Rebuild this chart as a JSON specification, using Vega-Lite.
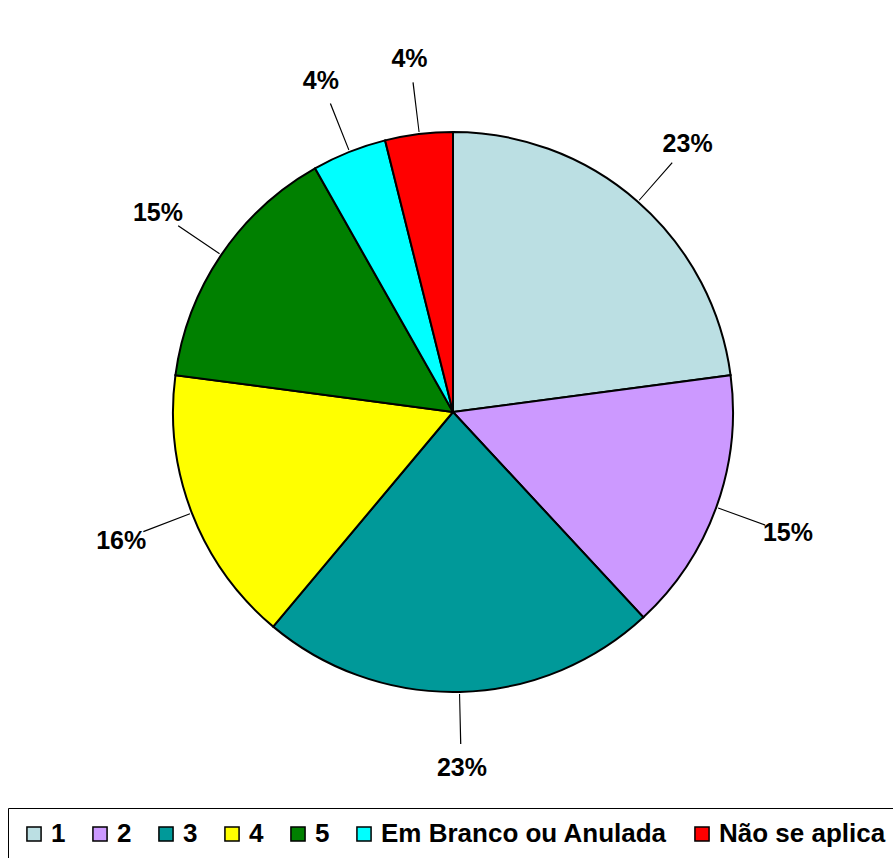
{
  "$schema": "https://vega.github.io/schema/vega-lite/v6.json",
  "width": 906,
  "height": 824,
  "autosize": "none",
  "padding": {"left": 0, "top": 0, "right": 0, "bottom": 34},
  "background": "white",
  "config": {"view": {"stroke": null}},
  "data": {"values": [
    {"category": "1", "value": 22.9, "label": "23%", "ord": 1},
    {"category": "2", "value": 15.2, "label": "15%", "ord": 2},
    {"category": "3", "value": 23.0, "label": "23%", "ord": 3},
    {"category": "4", "value": 16.0, "label": "16%", "ord": 4},
    {"category": "5", "value": 14.7, "label": "15%", "ord": 5},
    {"category": "Em Branco ou Anulada", "value": 4.3, "label": "4%", "ord": 6},
    {"category": "Não se aplica", "value": 3.9, "label": "4%", "ord": 7}
  ]},
  "transform": [
    {"window": [{"op": "sum", "field": "value", "as": "cum"}], "sort": [{"field": "ord"}], "frame": [null, 0]},
    {"calculate": "datum.cum - datum.value", "as": "start"},
    {"calculate": "datum.cum - datum.value / 2", "as": "mid"},
    {"calculate": "datum.mid + 0.06", "as": "mid2"}
  ],
  "layer": [
    {
      "mark": {"type": "arc", "radius": 280, "stroke": "black", "strokeWidth": 2},
      "encoding": {
        "theta": {"field": "start", "type": "quantitative", "stack": null, "scale": {"domain": [0, 100]}},
        "theta2": {"field": "cum"},
        "color": {
          "field": "category",
          "type": "nominal",
          "scale": {
            "domain": ["1", "2", "3", "4", "5", "Em Branco ou Anulada", "Não se aplica"],
            "range": ["#BBDFE3", "#CC99FF", "#009999", "#FFFF00", "#008000", "#00FFFF", "#FF0000"]
          },
          "legend": {
            "title": null,
            "orient": "none",
            "legendX": 8,
            "legendY": 808,
            "direction": "horizontal",
            "columns": 7,
            "symbolType": "square",
            "symbolSize": 200,
            "symbolStrokeColor": "black",
            "symbolStrokeWidth": 1.5,
            "symbolOpacity": 1,
            "labelFont": "Liberation Sans",
            "labelFontSize": 26,
            "labelFontWeight": "bold",
            "labelColor": "black",
            "labelOffset": 4,
            "labelLimit": 400,
            "columnPadding": 21,
            "strokeColor": "black",
            "fillColor": "white",
            "padding": 13
          }
        }
      }
    },
    {
      "mark": {"type": "arc", "radius": 282, "radius2": 332, "fill": "black", "strokeWidth": 0},
      "encoding": {
        "theta": {"field": "mid", "type": "quantitative", "stack": null},
        "theta2": {"field": "mid2"}
      }
    },
    {
      "mark": {"type": "text", "radius": 356, "font": "Liberation Sans", "fontSize": 25, "fontWeight": "bold", "color": "black"},
      "encoding": {
        "theta": {"field": "mid", "type": "quantitative", "stack": null},
        "text": {"field": "label"}
      }
    }
  ]
}
